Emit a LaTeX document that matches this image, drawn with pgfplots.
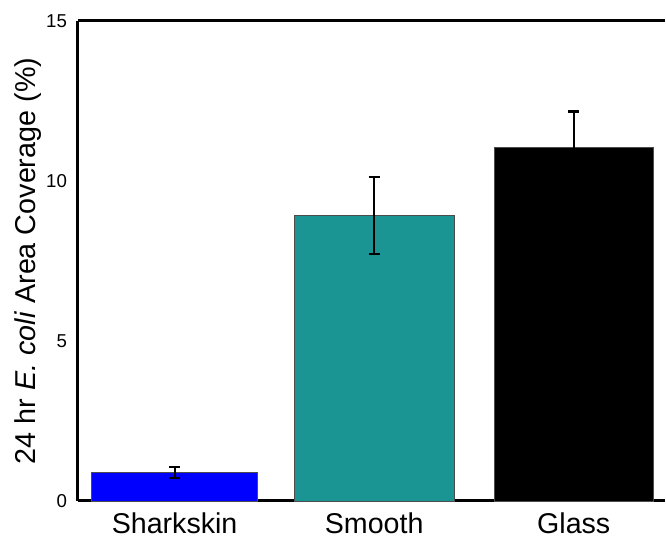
\documentclass[border=0pt]{standalone}
\usepackage{pgfplots}
\pgfplotsset{compat=1.18}
\usepackage{fontspec}
\setmainfont{Liberation Sans}
\definecolor{teal1}{RGB}{27,148,148}
\begin{document}
\begin{tikzpicture}[x=0.75pt,y=0.75pt]
\begin{axis}[
  scale only axis,
  width=441pt, height=360.75pt,
  xmin=-0.485, xmax=2.455,
  ymin=0, ymax=15,
  axis x line=bottom, axis y line=left,
  axis line style={line width=2.2pt,-},
  xtick={0,1,2}, xticklabels={Sharkskin,Smooth,Glass},
  ytick={0,5,10,15},
  major tick length=0pt,
  tick style={draw=none},
  /pgf/number format/assume math mode=true,
  yticklabel style={font=\fontsize{14pt}{16pt}\selectfont, inner sep=0pt, anchor=east, xshift=-8pt},
  xticklabel style={font=\fontsize{21.5pt}{24pt}\selectfont, inner sep=0pt, anchor=north, yshift=-9pt},
  ylabel={24 hr \textit{E. coli} Area Coverage (\%)},
  ylabel style={font=\fontsize{21.6pt}{25pt}\selectfont, inner sep=0pt, at={(rel axis cs:0,0.5)}, anchor=south, yshift=27pt},
  after end axis/.code={
    \draw[line width=2.2pt] (rel axis cs:0,1) -- (rel axis cs:1,1);
    \path ([yshift=15.75pt]rel axis cs:0,1) ([xshift=-58.5pt]rel axis cs:0,0.5) ([yshift=-28.5pt]rel axis cs:0,0);
  },
  clip=false,
]
\addplot[ybar, bar width=0.83, bar shift=0pt, fill=blue, draw=black!70, line width=0.5pt,
  error bars/.cd, y dir=both, y explicit,
  error bar style={line width=1.6pt, black},
  error mark options={rotate=90, mark size=4.2pt, line width=1.6pt, black}]
  coordinates {(0,0.89) +- (0,0.17)};
\addplot[ybar, bar width=0.80, bar shift=0pt, fill=teal1, draw=black!70, line width=0.5pt,
  error bars/.cd, y dir=both, y explicit,
  error bar style={line width=1.6pt, black},
  error mark options={rotate=90, mark size=4.2pt, line width=1.6pt, black}]
  coordinates {(1,8.92) +- (0,1.19)};
\addplot[ybar, bar width=0.80, bar shift=0pt, fill=black, draw=black!70, line width=0.5pt,
  error bars/.cd, y dir=both, y explicit,
  error bar style={line width=1.6pt, black},
  error mark options={rotate=90, mark size=4.2pt, line width=1.6pt, black}]
  coordinates {(2,11.05) +- (0,1.12)};
\end{axis}
\end{tikzpicture}
\end{document}
